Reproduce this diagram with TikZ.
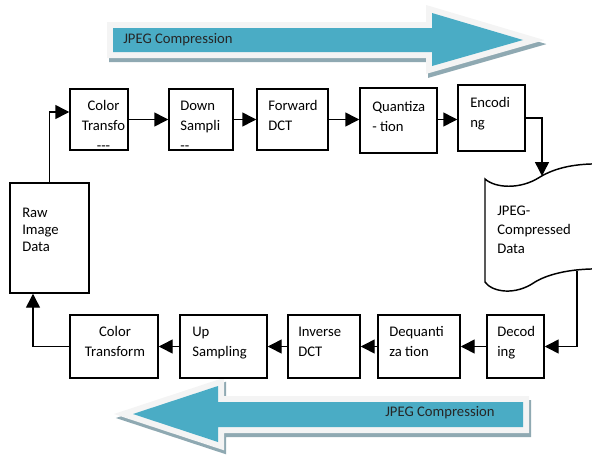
\documentclass[tikz,border=0pt]{standalone}
\usepackage{fontspec}
\setmainfont{Carlito}
\usetikzlibrary{arrows.meta,calc,fit,positioning}
\definecolor{jpegblue}{HTML}{4AACC5}
\definecolor{jpegshade}{HTML}{8FA9B2}
\definecolor{jpegglow}{HTML}{F4F4F4}
\tikzset{
  stagebox/.style={draw, line width=1.1pt, inner sep=0pt, fill=white},
  stagetext/.style={inner sep=0pt, anchor=north west, align=left, font=\fontsize{11}{15}\selectfont},
  conn/.style={line width=1.1pt, -{Triangle[length=10.5pt,width=10.5pt]}},
  bannertext/.style={inner sep=0pt, anchor=base west, text=black!85, font=\fontsize{11}{13}\selectfont},
}

\begin{document}
\begin{tikzpicture}[x=0.75pt,y=-0.75pt]
\useasboundingbox (0,0) rectangle (592,457);
\clip (0,0) rectangle (592,457);

% big banner arrows
\foreach \dx/\dy/\col in {2/4/jpegshade, 0/0/jpegglow} {
  \draw[\col, fill=\col, line width=9pt, miter limit=12, shift={(\dx,\dy)}]
    (113,28) -- (432,28) -- (432,13) -- (523,40) -- (432,66) -- (432,52) -- (113,52) -- cycle;
  \draw[\col, fill=\col, line width=9pt, miter limit=12, shift={(\dx,\dy)}]
    (523,402) -- (218,402) -- (218,386) -- (133,414) -- (218,442) -- (218,427) -- (523,427) -- cycle;
}
\fill[jpegblue] (113,28) -- (432,28) -- (432,13) -- (523,40) -- (432,66) -- (432,52) -- (113,52) -- cycle;
\fill[jpegblue] (523,402) -- (218,402) -- (218,386) -- (133,414) -- (218,442) -- (218,427) -- (523,427) -- cycle;
\node[bannertext] (toplabel) at (123,43) {JPEG Compression};
\node[bannertext] (botlabel) at (385,416.5) {JPEG Compression};

% top row
\node[stagebox, fit={(70,89)(128,150)}] (ct) {};
\node[stagebox, fit={(169,89)(233,150)}] (ds) {};
\node[stagebox, fit={(257,89)(328,150)}] (fd) {};
\node[stagebox, fit={(360,88)(437,153)}] (qt) {};
\node[stagebox, fit={(458,85)(525,151)}] (en) {};
\node[stagetext, anchor=north, align=center] (ct-t) at (103.5,96.5) {\strut Color\\\strut Transfo\\\strut -{}-{}-};
\node[stagetext] (ds-t) at (180,96.5) {\strut Down\\\strut Sampli\\\strut -{}-};
\node[stagetext] (fd-t) at (268,96.5) {\strut Forward\\\strut DCT};
\node[stagetext] (qt-t) at (372,97.5) {\strut Quantiza\\\strut - tion};
\node[stagetext] (en-t) at (470,93.5) {\strut Encodi\\\strut ng};

% raw data
\node[stagebox, fit={(10,183)(89,293)}] (raw) {};
\node[stagetext, font=\fontsize{11}{12.75}\selectfont] (raw-t) at (22,205.6) {\strut Raw\\\strut Image\\\strut Data};

% compressed data document
\draw[line width=1.1pt, fill=white] (485,179) .. controls (495,188) and (520,190) .. (540,177)
  .. controls (555,168) and (575,163) .. (605,164) -- (605,269)
  .. controls (575,268) and (550,273) .. (535,282)
  .. controls (515,296) and (492,292) .. (485,282) -- cycle;
\coordinate (docin) at (542,176);
\coordinate (docout) at (577,271);
\node[stagetext, font=\fontsize{11}{14}\selectfont] (doc-t) at (497,202.4) {\strut JPEG-\\\strut Compressed\\\strut Data};

% bottom row
\node[stagebox, fit={(70,315)(158,378)}] (cti) {};
\node[stagebox, fit={(180,315)(267,378)}] (us) {};
\node[stagebox, fit={(288,315)(360,378)}] (idct) {};
\node[stagebox, fit={(378,315)(460,378)}] (dq) {};
\node[stagebox, fit={(487,315)(544,378)}] (dc) {};
\node[stagetext, anchor=north, align=center] (cti-t) at (115,322.5) {\strut Color\\\strut Transform};
\node[stagetext] (us-t) at (192,322.5) {\strut Up\\\strut Sampling};
\node[stagetext] (idct-t) at (298,322.5) {\strut Inverse\\\strut DCT};
\node[stagetext] (dq-t) at (389,322.5) {\strut Dequanti\\\strut za tion};
\node[stagetext] (dc-t) at (497,322.5) {\strut Decod\\\strut ing};

% connectors
\draw[conn] (raw.north) |- ($(ct.west)+(0,-7.5)$);
\draw[conn] (ct.east) -- (ct.east -| ds.west);
\draw[conn] (ds.east) -- (ds.east -| fd.west);
\draw[conn] (fd.east) -- (fd.east -| qt.west);
\draw[conn] (fd.east -| qt.east) -- (fd.east -| en.west);
\draw[conn] (en.east) -| (docin);
\draw[conn] (docout) |- (dc.east);
\draw[conn] (dc.west) -- (dq.east);
\draw[conn] (dq.west) -- (idct.east);
\draw[conn] (idct.west) -- (us.east);
\draw[conn] (us.west) -- (cti.east);
\draw[conn] (cti.west) -| ($(raw.south)+(-16.5,0)$);
\end{tikzpicture}
\end{document}
